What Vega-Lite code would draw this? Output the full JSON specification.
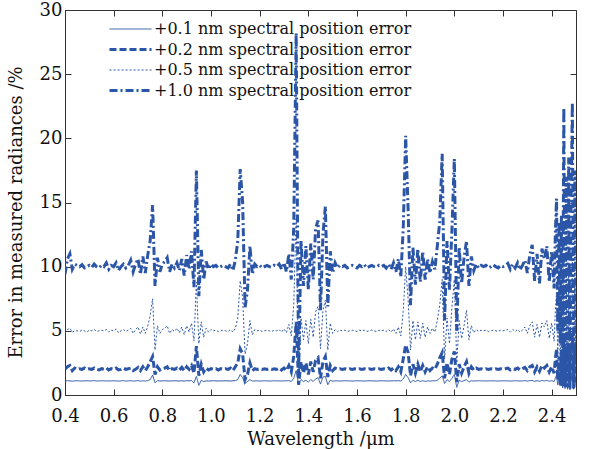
{
"$schema": "https://vega.github.io/schema/vega-lite/v6.json",
"width": 511, "height": 385,
"padding": {"left": 65, "top": 10, "right": 15, "bottom": 54},
"autosize": {"type": "none"},
"background": "white",
"config": {
  "view": {"stroke": "#333", "strokeWidth": 1},
  "font": "DejaVu Serif",
  "axis": {"grid": false, "labelFlush": false, "domainColor": "#333", "tickColor": "#333", "tickSize": -6, "labelFont": "DejaVu Serif", "titleFont": "DejaVu Serif", "labelFontSize": 18, "titleFontSize": 18, "titleFontWeight": "normal", "labelColor": "#111", "titleColor": "#111"},
  "legend": {"labelFont": "DejaVu Serif"}
},
"data": {"values": [
{"x":0.40,"a":1.05,"b":2.0,"c":4.8,"d":9.4},
{"x":0.41,"a":1.12,"b":2.2,"c":5.1,"d":10.6},
{"x":0.42,"a":1.10,"b":2.3,"c":5.2,"d":11.0},
{"x":0.43,"a":1.08,"b":1.9,"c":4.9,"d":9.8},
{"x":0.44,"a":1.10,"b":2.1,"c":5.0,"d":10.2},
{"x":0.45,"a":1.11,"b":2.0,"c":5.0,"d":10.1},
{"x":0.46,"a":1.10,"b":2.05,"c":4.95,"d":10.0},
{"x":0.47,"a":1.09,"b":2.0,"c":5.05,"d":10.15},
{"x":0.48,"a":1.10,"b":2.1,"c":5.0,"d":9.9},
{"x":0.49,"a":1.11,"b":2.0,"c":4.9,"d":10.0},
{"x":0.50,"a":1.10,"b":2.05,"c":5.05,"d":10.1},
{"x":0.51,"a":1.10,"b":2.0,"c":5.0,"d":9.95},
{"x":0.52,"a":1.12,"b":2.1,"c":5.1,"d":10.2},
{"x":0.53,"a":1.09,"b":2.0,"c":4.95,"d":10.0},
{"x":0.54,"a":1.10,"b":1.95,"c":5.0,"d":9.9},
{"x":0.55,"a":1.11,"b":2.05,"c":5.05,"d":10.1},
{"x":0.56,"a":1.10,"b":2.0,"c":5.0,"d":10.0},
{"x":0.57,"a":1.10,"b":2.1,"c":5.1,"d":10.3},
{"x":0.58,"a":1.09,"b":1.95,"c":4.9,"d":9.8},
{"x":0.59,"a":1.10,"b":2.05,"c":5.05,"d":10.1},
{"x":0.60,"a":1.11,"b":2.0,"c":5.0,"d":10.0},
{"x":0.61,"a":1.10,"b":2.1,"c":5.15,"d":10.3},
{"x":0.62,"a":1.08,"b":1.95,"c":4.85,"d":9.7},
{"x":0.63,"a":1.10,"b":2.0,"c":5.0,"d":10.0},
{"x":0.64,"a":1.12,"b":2.1,"c":5.1,"d":10.2},
{"x":0.65,"a":1.09,"b":2.0,"c":4.95,"d":9.9},
{"x":0.66,"a":1.10,"b":2.05,"c":5.05,"d":10.1},
{"x":0.67,"a":1.11,"b":2.1,"c":5.2,"d":10.5},
{"x":0.68,"a":1.09,"b":1.9,"c":4.8,"d":9.6},
{"x":0.69,"a":1.10,"b":2.0,"c":5.1,"d":10.2},
{"x":0.70,"a":1.12,"b":2.15,"c":5.3,"d":10.6},
{"x":0.71,"a":1.08,"b":1.9,"c":4.75,"d":9.4},
{"x":0.72,"a":1.11,"b":2.2,"c":5.3,"d":10.8},
{"x":0.73,"a":1.09,"b":1.9,"c":4.8,"d":9.5},
{"x":0.74,"a":1.12,"b":2.2,"c":5.35,"d":10.9},
{"x":0.75,"a":1.20,"b":2.6,"c":6.2,"d":12.0},
{"x":0.76,"a":1.55,"b":3.0,"c":7.5,"d":14.8},
{"x":0.77,"a":0.95,"b":1.6,"c":3.5,"d":8.5},
{"x":0.78,"a":1.12,"b":2.2,"c":5.4,"d":10.7},
{"x":0.79,"a":1.09,"b":1.95,"c":4.8,"d":9.6},
{"x":0.80,"a":1.10,"b":2.05,"c":5.1,"d":10.2},
{"x":0.81,"a":1.11,"b":2.1,"c":5.2,"d":10.4},
{"x":0.82,"a":1.10,"b":2.2,"c":5.4,"d":10.7},
{"x":0.83,"a":1.09,"b":1.9,"c":4.8,"d":9.6},
{"x":0.84,"a":1.10,"b":2.05,"c":5.1,"d":10.2},
{"x":0.85,"a":1.11,"b":2.0,"c":4.95,"d":9.9},
{"x":0.86,"a":1.10,"b":2.1,"c":5.2,"d":10.3},
{"x":0.87,"a":1.09,"b":1.95,"c":4.85,"d":9.7},
{"x":0.88,"a":1.11,"b":2.15,"c":5.3,"d":10.6},
{"x":0.89,"a":1.08,"b":1.9,"c":4.7,"d":9.3},
{"x":0.90,"a":1.12,"b":2.2,"c":5.4,"d":10.9},
{"x":0.91,"a":1.10,"b":2.0,"c":4.9,"d":9.8},
{"x":0.92,"a":1.13,"b":2.3,"c":5.6,"d":11.2},
{"x":0.93,"a":0.95,"b":1.7,"c":4.2,"d":8.4},
{"x":0.94,"a":1.45,"b":3.8,"c":8.8,"d":17.5},
{"x":0.95,"a":0.75,"b":1.5,"c":4.0,"d":7.7},
{"x":0.96,"a":1.15,"b":2.4,"c":5.7,"d":11.3},
{"x":0.97,"a":1.05,"b":1.8,"c":4.5,"d":9.0},
{"x":0.98,"a":1.10,"b":2.1,"c":5.2,"d":10.4},
{"x":0.99,"a":1.09,"b":1.95,"c":4.9,"d":9.8},
{"x":1.00,"a":1.10,"b":2.05,"c":5.1,"d":10.2},
{"x":1.01,"a":1.11,"b":2.0,"c":5.0,"d":10.0},
{"x":1.02,"a":1.10,"b":2.05,"c":5.05,"d":10.1},
{"x":1.03,"a":1.09,"b":1.95,"c":4.95,"d":9.9},
{"x":1.04,"a":1.10,"b":2.05,"c":5.0,"d":10.0},
{"x":1.05,"a":1.10,"b":2.0,"c":5.05,"d":10.1},
{"x":1.06,"a":1.11,"b":2.05,"c":5.0,"d":10.0},
{"x":1.07,"a":1.10,"b":2.0,"c":4.95,"d":9.9},
{"x":1.08,"a":1.09,"b":2.1,"c":5.1,"d":10.2},
{"x":1.09,"a":1.11,"b":1.9,"c":4.9,"d":9.7},
{"x":1.10,"a":1.12,"b":2.2,"c":5.2,"d":10.5},
{"x":1.11,"a":1.20,"b":2.5,"c":6.0,"d":12.0},
{"x":1.12,"a":1.60,"b":3.6,"c":8.9,"d":17.6},
{"x":1.13,"a":1.35,"b":3.2,"c":7.6,"d":15.0},
{"x":1.14,"a":0.90,"b":1.2,"c":3.2,"d":6.8},
{"x":1.15,"a":1.05,"b":1.6,"c":4.0,"d":8.2},
{"x":1.16,"a":1.20,"b":2.5,"c":5.8,"d":11.6},
{"x":1.17,"a":1.08,"b":1.9,"c":4.7,"d":9.4},
{"x":1.18,"a":1.10,"b":2.05,"c":5.1,"d":10.2},
{"x":1.19,"a":1.10,"b":2.0,"c":5.0,"d":10.0},
{"x":1.20,"a":1.09,"b":2.05,"c":5.05,"d":10.1},
{"x":1.21,"a":1.10,"b":2.0,"c":4.95,"d":9.9},
{"x":1.22,"a":1.11,"b":2.05,"c":5.0,"d":10.0},
{"x":1.23,"a":1.10,"b":2.0,"c":5.05,"d":10.1},
{"x":1.24,"a":1.09,"b":2.05,"c":5.0,"d":10.0},
{"x":1.25,"a":1.10,"b":2.0,"c":4.95,"d":9.95},
{"x":1.26,"a":1.11,"b":2.05,"c":5.05,"d":10.1},
{"x":1.27,"a":1.10,"b":2.0,"c":5.0,"d":10.0},
{"x":1.28,"a":1.10,"b":2.1,"c":5.1,"d":10.2},
{"x":1.29,"a":1.09,"b":1.95,"c":4.9,"d":9.8},
{"x":1.30,"a":1.11,"b":2.1,"c":5.15,"d":10.3},
{"x":1.31,"a":1.10,"b":1.9,"c":4.85,"d":9.6},
{"x":1.32,"a":1.12,"b":2.3,"c":5.5,"d":11.0},
{"x":1.33,"a":1.05,"b":1.8,"c":4.6,"d":9.0},
{"x":1.34,"a":1.30,"b":3.0,"c":7.0,"d":13.0},
{"x":1.35,"a":1.90,"b":5.7,"c":14.0,"d":28.2},
{"x":1.36,"a":0.80,"b":0.8,"c":1.5,"d":1.5},
{"x":1.37,"a":1.20,"b":2.6,"c":6.0,"d":12.0},
{"x":1.38,"a":1.05,"b":1.7,"c":4.3,"d":8.5},
{"x":1.39,"a":1.15,"b":2.5,"c":5.8,"d":11.6},
{"x":1.40,"a":1.00,"b":1.6,"c":4.0,"d":8.2},
{"x":1.41,"a":1.20,"b":2.6,"c":5.9,"d":11.8},
{"x":1.42,"a":1.05,"b":1.8,"c":4.5,"d":9.0},
{"x":1.43,"a":1.25,"b":2.7,"c":6.5,"d":13.0},
{"x":1.44,"a":1.35,"b":2.9,"c":6.9,"d":13.6},
{"x":1.45,"a":0.85,"b":1.3,"c":3.6,"d":6.6},
{"x":1.46,"a":1.40,"b":2.6,"c":6.6,"d":12.5},
{"x":1.47,"a":1.45,"b":3.0,"c":7.4,"d":14.7},
{"x":1.48,"a":0.80,"b":1.4,"c":3.5,"d":6.9},
{"x":1.49,"a":1.15,"b":2.3,"c":5.6,"d":11.2},
{"x":1.50,"a":1.08,"b":1.9,"c":4.8,"d":9.5},
{"x":1.51,"a":1.10,"b":2.1,"c":5.1,"d":10.3},
{"x":1.52,"a":1.10,"b":2.0,"c":4.95,"d":9.9},
{"x":1.53,"a":1.09,"b":2.05,"c":5.05,"d":10.1},
{"x":1.54,"a":1.10,"b":2.0,"c":5.0,"d":10.0},
{"x":1.55,"a":1.11,"b":2.05,"c":5.05,"d":10.1},
{"x":1.56,"a":1.10,"b":2.0,"c":4.95,"d":9.9},
{"x":1.57,"a":1.10,"b":2.05,"c":5.0,"d":10.0},
{"x":1.58,"a":1.09,"b":2.0,"c":5.05,"d":10.1},
{"x":1.59,"a":1.10,"b":2.05,"c":5.0,"d":10.0},
{"x":1.60,"a":1.11,"b":2.0,"c":4.95,"d":9.9},
{"x":1.61,"a":1.10,"b":2.05,"c":5.05,"d":10.1},
{"x":1.62,"a":1.10,"b":2.0,"c":5.0,"d":10.0},
{"x":1.63,"a":1.09,"b":2.05,"c":5.05,"d":10.15},
{"x":1.64,"a":1.10,"b":2.0,"c":4.95,"d":9.9},
{"x":1.65,"a":1.11,"b":2.05,"c":5.0,"d":10.0},
{"x":1.66,"a":1.10,"b":2.0,"c":5.05,"d":10.1},
{"x":1.67,"a":1.10,"b":2.05,"c":5.0,"d":10.0},
{"x":1.68,"a":1.09,"b":2.0,"c":4.95,"d":9.95},
{"x":1.69,"a":1.10,"b":2.05,"c":5.05,"d":10.1},
{"x":1.70,"a":1.11,"b":2.0,"c":5.0,"d":10.0},
{"x":1.71,"a":1.10,"b":2.05,"c":5.05,"d":10.1},
{"x":1.72,"a":1.10,"b":2.0,"c":4.95,"d":9.9},
{"x":1.73,"a":1.09,"b":2.1,"c":5.1,"d":10.2},
{"x":1.74,"a":1.10,"b":1.95,"c":4.9,"d":9.8},
{"x":1.75,"a":1.11,"b":2.1,"c":5.15,"d":10.3},
{"x":1.76,"a":1.10,"b":1.9,"c":4.8,"d":9.6},
{"x":1.77,"a":1.12,"b":2.2,"c":5.3,"d":10.6},
{"x":1.78,"a":1.08,"b":1.8,"c":4.6,"d":9.2},
{"x":1.79,"a":1.25,"b":2.8,"c":6.5,"d":13.0},
{"x":1.80,"a":1.60,"b":3.9,"c":10.0,"d":20.2},
{"x":1.81,"a":1.35,"b":3.3,"c":7.5,"d":14.5},
{"x":1.82,"a":0.95,"b":1.5,"c":3.5,"d":7.0},
{"x":1.83,"a":1.15,"b":2.4,"c":5.8,"d":11.5},
{"x":1.84,"a":1.05,"b":1.7,"c":4.3,"d":8.6},
{"x":1.85,"a":1.15,"b":2.4,"c":5.7,"d":11.4},
{"x":1.86,"a":1.05,"b":1.8,"c":4.4,"d":8.8},
{"x":1.87,"a":1.12,"b":2.3,"c":5.6,"d":11.2},
{"x":1.88,"a":1.06,"b":1.8,"c":4.5,"d":9.0},
{"x":1.89,"a":1.10,"b":2.2,"c":5.3,"d":10.6},
{"x":1.90,"a":1.08,"b":1.9,"c":4.8,"d":9.5},
{"x":1.91,"a":1.11,"b":2.1,"c":5.2,"d":10.4},
{"x":1.92,"a":1.10,"b":2.0,"c":4.9,"d":9.8},
{"x":1.93,"a":1.15,"b":2.4,"c":5.8,"d":11.6},
{"x":1.94,"a":1.30,"b":2.9,"c":7.0,"d":13.5},
{"x":1.95,"a":1.50,"b":3.3,"c":9.0,"d":18.8},
{"x":1.96,"a":0.90,"b":1.3,"c":2.8,"d":5.8},
{"x":1.97,"a":1.20,"b":2.5,"c":6.0,"d":12.0},
{"x":1.98,"a":1.05,"b":1.6,"c":4.0,"d":8.2},
{"x":1.99,"a":1.30,"b":2.8,"c":6.8,"d":12.8},
{"x":2.00,"a":1.60,"b":3.4,"c":9.0,"d":18.4},
{"x":2.01,"a":0.60,"b":1.0,"c":2.5,"d":5.0},
{"x":2.02,"a":1.15,"b":2.4,"c":5.8,"d":11.5},
{"x":2.03,"a":1.05,"b":1.7,"c":4.4,"d":8.7},
{"x":2.04,"a":1.12,"b":2.2,"c":5.4,"d":10.7},
{"x":2.05,"a":1.20,"b":2.6,"c":6.6,"d":12.0},
{"x":2.06,"a":1.00,"b":1.7,"c":4.3,"d":8.5},
{"x":2.07,"a":1.12,"b":2.2,"c":5.4,"d":10.8},
{"x":2.08,"a":1.09,"b":1.95,"c":4.85,"d":9.7},
{"x":2.09,"a":1.10,"b":2.1,"c":5.1,"d":10.2},
{"x":2.10,"a":1.11,"b":2.0,"c":4.95,"d":9.9},
{"x":2.11,"a":1.10,"b":2.05,"c":5.05,"d":10.1},
{"x":2.12,"a":1.10,"b":2.0,"c":5.0,"d":10.0},
{"x":2.13,"a":1.09,"b":2.05,"c":5.05,"d":10.1},
{"x":2.14,"a":1.10,"b":2.0,"c":4.95,"d":9.9},
{"x":2.15,"a":1.11,"b":2.05,"c":5.0,"d":10.0},
{"x":2.16,"a":1.10,"b":2.0,"c":5.05,"d":10.15},
{"x":2.17,"a":1.10,"b":2.05,"c":5.0,"d":10.0},
{"x":2.18,"a":1.09,"b":2.0,"c":4.95,"d":9.9},
{"x":2.19,"a":1.10,"b":2.05,"c":5.05,"d":10.1},
{"x":2.20,"a":1.11,"b":2.0,"c":5.0,"d":10.0},
{"x":2.21,"a":1.10,"b":2.05,"c":5.05,"d":10.1},
{"x":2.22,"a":1.10,"b":2.1,"c":5.1,"d":10.25},
{"x":2.23,"a":1.09,"b":1.95,"c":4.9,"d":9.8},
{"x":2.24,"a":1.10,"b":2.05,"c":5.1,"d":10.2},
{"x":2.25,"a":1.11,"b":2.0,"c":4.95,"d":9.9},
{"x":2.26,"a":1.10,"b":2.1,"c":5.1,"d":10.3},
{"x":2.27,"a":1.09,"b":1.95,"c":4.9,"d":9.75},
{"x":2.28,"a":1.10,"b":2.05,"c":5.05,"d":10.1},
{"x":2.29,"a":1.12,"b":2.15,"c":5.3,"d":10.5},
{"x":2.30,"a":1.08,"b":1.9,"c":4.8,"d":9.5},
{"x":2.31,"a":1.12,"b":2.2,"c":5.4,"d":10.9},
{"x":2.32,"a":1.14,"b":2.3,"c":5.7,"d":11.7},
{"x":2.33,"a":1.06,"b":1.8,"c":4.5,"d":8.9},
{"x":2.34,"a":1.12,"b":2.2,"c":5.5,"d":11.0},
{"x":2.35,"a":1.07,"b":1.85,"c":4.5,"d":8.7},
{"x":2.36,"a":1.13,"b":2.3,"c":5.6,"d":11.4},
{"x":2.37,"a":1.10,"b":2.1,"c":5.3,"d":10.6},
{"x":2.38,"a":1.14,"b":2.3,"c":5.8,"d":11.6},
{"x":2.39,"a":1.07,"b":1.8,"c":4.4,"d":8.8},
{"x":2.40,"a":1.12,"b":2.2,"c":5.6,"d":11.2},
{"x":2.41,"a":1.05,"b":1.7,"c":4.2,"d":8.3},
{"x":2.415,"a":1.30,"b":2.8,"c":6.5,"d":12.5},
{"x":2.42,"a":1.55,"b":3.6,"c":8.0,"d":15.3},
{"x":2.425,"a":0.80,"b":1.2,"c":3.0,"d":5.0},
{"x":2.43,"a":1.35,"b":3.0,"c":7.0,"d":13.5},
{"x":2.435,"a":0.70,"b":0.8,"c":2.5,"d":4.0},
{"x":2.44,"a":1.40,"b":3.5,"c":7.5,"d":14.0},
{"x":2.445,"a":0.55,"b":0.7,"c":2.0,"d":3.0},
{"x":2.45,"a":1.75,"b":4.5,"c":11.0,"d":22.4},
{"x":2.455,"a":0.50,"b":0.6,"c":1.5,"d":2.0},
{"x":2.46,"a":1.50,"b":3.8,"c":9.0,"d":17.0},
{"x":2.465,"a":0.45,"b":0.6,"c":1.2,"d":1.5},
{"x":2.47,"a":1.60,"b":4.0,"c":9.5,"d":18.5},
{"x":2.475,"a":0.40,"b":0.5,"c":1.0,"d":1.0},
{"x":2.48,"a":1.50,"b":3.6,"c":8.0,"d":15.0},
{"x":2.485,"a":1.80,"b":4.8,"c":11.5,"d":22.8},
{"x":2.49,"a":0.45,"b":0.5,"c":1.1,"d":1.2},
{"x":2.495,"a":1.60,"b":4.0,"c":9.0,"d":17.5},
{"x":2.50,"a":0.60,"b":1.0,"c":2.5,"d":4.0}
]},
"transform": [{"fold": ["a", "b", "c", "d"], "as": ["s", "v"]}],
"layer": [
  {
    "mark": {"type": "line", "color": "#2b55a6", "strokeCap": "butt", "clip": true},
    "encoding": {
      "x": {"field": "x", "type": "quantitative", "scale": {"domain": [0.4, 2.5], "nice": false, "zero": false},
            "axis": {"values": [0.4, 0.6, 0.8, 1.0, 1.2, 1.4, 1.6, 1.8, 2.0, 2.2, 2.4], "format": ".1f", "title": "Wavelength /μm", "labelPadding": 18, "titlePadding": 5}},
      "y": {"field": "v", "type": "quantitative", "scale": {"domain": [0, 30], "nice": false},
            "axis": {"values": [0, 5, 10, 15, 20, 25, 30], "title": "Error in measured radiances /%", "labelPadding": 9, "titlePadding": 14, "titleY": 202}},
      "strokeDash": {"field": "s", "type": "nominal", "scale": {"type": "ordinal", "domain": ["a", "b", "c", "d"], "range": [[1, 0], [7, 3], [2, 2], [8, 3, 2, 3]]},
            "legend": {"title": null, "orient": "none", "legendX": 57, "legendY": 11, "padding": 0, "symbolType": "M-3,0H3", "symbolSize": 196, "symbolStrokeColor": "#2b55a6", "labelOffset": 15, "labelFontSize": 16, "labelLimit": 500, "labelColor": "#111", "rowPadding": 4,
              "labelExpr": "datum.label == 'a' ? '+0.1 nm spectral position error' : datum.label == 'b' ? '+0.2 nm spectral position error' : datum.label == 'c' ? '+0.5 nm spectral position error' : '+1.0 nm spectral position error'"}},
      "strokeWidth": {"field": "s", "type": "nominal", "scale": {"type": "ordinal", "domain": ["a", "b", "c", "d"], "range": [1, 3, 1, 3]},
            "legend": {"title": null, "orient": "none", "legendX": 57, "legendY": 11, "padding": 0, "symbolType": "M-3,0H3", "symbolSize": 196, "symbolStrokeColor": "#2b55a6", "labelOffset": 15, "labelFontSize": 16, "labelLimit": 500, "labelColor": "#111", "rowPadding": 4,
              "labelExpr": "datum.label == 'a' ? '+0.1 nm spectral position error' : datum.label == 'b' ? '+0.2 nm spectral position error' : datum.label == 'c' ? '+0.5 nm spectral position error' : '+1.0 nm spectral position error'"}}
    }
  },
  {
    "mark": {"type": "line", "opacity": 0},
    "encoding": {
      "x": {"field": "x", "type": "quantitative", "axis": {"orient": "top", "values": [0.4, 0.6, 0.8, 1.0, 1.2, 1.4, 1.6, 1.8, 2.0, 2.2, 2.4], "labels": false, "title": null, "domain": false}},
      "y": {"field": "v", "type": "quantitative", "axis": {"orient": "right", "values": [0, 5, 10, 15, 20, 25, 30], "labels": false, "title": null, "domain": false}},
      "detail": {"field": "s"}
    }
  }
],
"resolve": {"axis": {"x": "independent", "y": "independent"}}
}
